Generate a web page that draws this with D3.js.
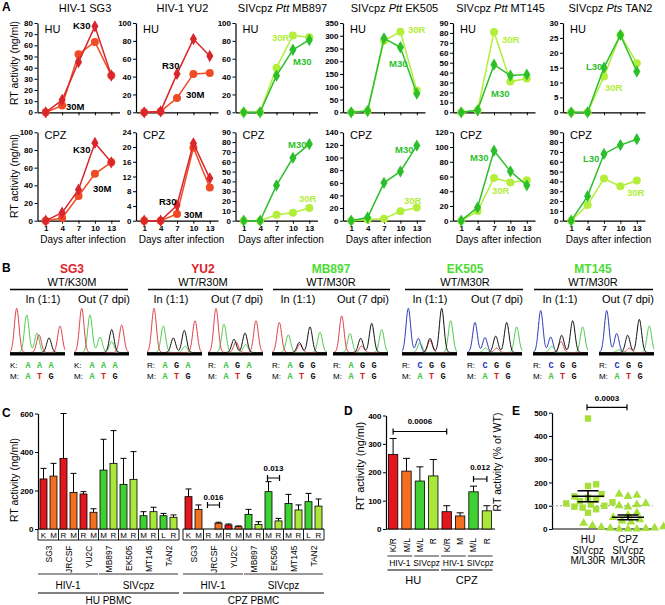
<!DOCTYPE html>
<html><head><meta charset="utf-8">
<script src="https://cdn.jsdelivr.net/npm/d3@7"></script>
<style>body{margin:0;background:#fff}</style>
</head><body>
<svg id="c" width="665" height="605"></svg>
<script>
// ---------------- DATA ----------------
// Panel A
const days = [1, 4, 7, 10, 13];
const strainsA = ["SG3", "YU2", "MB897", "EK505", "MT145", "TAN2"];
const titlesA = [
  [["HIV-1 SG3", 0]], [["HIV-1 YU2", 0]],
  [["SIVcpz ", 0], ["Ptt", 1], [" MB897", 0]],
  [["SIVcpz ", 0], ["Ptt", 1], [" EK505", 0]],
  [["SIVcpz ", 0], ["Ptt", 1], [" MT145", 0]],
  [["SIVcpz ", 0], ["Pts", 1], [" TAN2", 0]]
];
const typeA = ["HIV", "HIV", "SIV", "SIV", "SIV", "SIV"];
const wtLabelA = ["K30", "R30", "M30", "M30", "M30", "L30"];
const mutLabelA = ["30M", "30M", "30R", "30R", "30R", "30R"];
const huMaxA = [80, 100, 100, 350, 90, 30];
const huStepA = [10, 20, 20, 50, 10, 5];
const cpzMaxA = [100, 24, 90, 140, 120, 90];
const cpzStepA = [20, 4, 10, 20, 20, 10];
const huWtA = [[0, 11, 45, 77, 33], [0, 1, 43, 82, 63], [0, 0, 41, 70, 81], [0, 5, 290, 255, 73], [0, 2, 48, 37, 38], [0, 0, 15, 26, 13.7]];
const huMutA = [[0, 6, 52, 63, 33], [0, 1, 16, 43, 44], [0, 0, 50, 86, 84], [0, 5, 280, 316, 85], [0, 2, 81, 31, 34], [0, 0, 12, 26, 16.5]];
const cpzWtA = [[0, 9, 35, 88, 66], [0, 0, 4.2, 21, 11.5], [0, 0, 36, 64, 78], [0, 5, 60, 78, 119], [0, 18, 95, 67, 48], [0, 25, 68, 77, 83]];
const cpzMutA = [[0, 3, 28, 53, 66], [0, 0, 1.8, 19.8, 9], [0, 0, 6, 8, 13], [0, 2, 3, 15, 21], [0, 13, 58, 52, 55], [0, 16, 43, 35, 41]];

// Panel B
const bNames = ["SG3", "YU2", "MB897", "EK505", "MT145"];
const bFamily = ["HIV", "HIV", "SIV", "SIV", "SIV"];
const bSub = ["WT/K30M", "WT/R30M", "WT/M30R", "WT/M30R", "WT/M30R"];
const bWtAA = ["K", "R", "R", "R", "R"];
const bWtCodon = ["AAA", "AGA", "AGG", "CGG", "CGG"];
const bMutAA = "M";
const bMutCodon = "ATG";
// chromatogram peaks: [channel, position along trace, relative height]
const chromPeaks = [
  [["r", 6.7, 1.0], ["g", 16.7, 0.85], ["g", 27, 0.44], ["r", 29, 0.4], ["k", 39, 0.33], ["r", 50, 0.6]],
  [["r", 7.7, 1.0], ["g", 16, 0.85], ["g", 26, 0.35], ["k", 37.7, 0.52], ["g", 37.7, 0.25], ["r", 47.7, 0.62]],
  [["r", 7, 1.0], ["g", 16.3, 0.6], ["k", 26.3, 0.33], ["k", 37.3, 0.5], ["g", 38, 0.14], ["r", 48, 0.72]],
  [["r", 8, 1.0], ["g", 16, 0.64], ["k", 26, 0.3], ["r", 28, 0.24], ["k", 37, 0.44], ["g", 37.7, 0.18], ["r", 48, 0.72]],
  [["r", 7.3, 0.68], ["g", 16.3, 0.4], ["r", 28, 0.19], ["k", 27.3, 0.23], ["k", 38, 0.58], ["g", 48, 0.46]],
  [["r", 8.7, 0.83], ["g", 17, 0.43], ["k", 27.7, 0.32], ["r", 28.7, 0.15], ["k", 38.7, 0.66], ["g", 48.7, 0.52]],
  [["b", 6.3, 1.0], ["b", 16.3, 0.32], ["g", 18, 0.22], ["k", 28, 0.32], ["r", 28, 0.27], ["k", 39.7, 1.0], ["g", 48.7, 0.72]],
  [["b", 8, 0.68], ["b", 18, 0.34], ["g", 18.7, 0.1], ["k", 28.7, 0.37], ["r", 29.7, 0.1], ["k", 39.7, 0.68], ["g", 49.7, 0.58]],
  [["b", 7.7, 0.95], ["b", 17.7, 0.35], ["g", 18.7, 0.14], ["k", 28.7, 0.39], ["r", 28, 0.25], ["k", 39.7, 0.72], ["g", 49.7, 0.58]],
  [["b", 7.7, 0.95], ["b", 17.7, 0.43], ["g", 20, 0.06], ["k", 28.7, 0.39], ["r", 30.3, 0.1], ["k", 40.3, 0.75], ["g", 50.3, 0.6]]
];

// Panel C
const cStrains = ["SG3", "JRCSF", "YU2C", "MB897", "EK505", "MT145", "TAN2"];
const cFamily = ["HIV-1", "HIV-1", "HIV-1", "SIVcpz", "SIVcpz", "SIVcpz", "SIVcpz"];
const cWtRes = ["K", "R", "R", "M", "M", "M", "L"];
const cMutRes = ["M", "M", "M", "R", "R", "R", "R"];
const cHUmean = [260, 275, 367, 190, 182, 87, 306, 341, 232, 258, 69, 90, 69, 61];
const cHUsem = [55, 66, 233, 99, 12, 18, 160, 170, 135, 144, 21, 23, 12, 12];
const cCPZmean = [168, 102, 0, 30, 21, 12, 76, 24, 194, 42, 133, 99, 142, 119];
const cCPZsem = [40, 23, 0, 5, 5, 4, 26, 14, 52, 13, 47, 26, 43, 37];
const cYTicks = [0, 200, 400, 600];

// Panel D
const dLabels = ["K/R", "M/L", "M/L", "R", "K/R", "M", "M/L", "R"];
const dKind = ["hivWt", "hivMut", "sivWt", "sivMut", "hivWt", "hivMut", "sivWt", "sivMut"];
const dMean = [263, 204, 169, 187, 61, 46, 131, 64];
const dSem = [56, 45, 50, 58, 21, 11, 20, 18];
const dYTicks = [0, 100, 200, 300, 400];

// Panel E
const eHU = [475, 192, 185, 150, 140, 135, 128, 120, 115, 110, 105, 100, 96, 92, 85, 70];
const eCPZ = [150, 145, 140, 110, 105, 100, 95, 70, 60, 50, 40, 35, 30, 25, 20, 15, 10, 8, 5, 3, 2, 0, 0, 0];
const eMean = [141, 50];
const eSem = [23.5, 10];
const eYTicks = [0, 100, 200, 300, 400, 500];

// ---------------- STYLE / LAYOUT ----------------
const FONT = "'Liberation Sans', Arial, Helvetica, sans-serif";
const COL = {
  hivWt: "#e2161d", hivMut: "#f36f21", sivWt: "#3fd133", sivMut: "#a9e83b",
  lineHivWt: "#d8262c", lineHivMut: "#f04b24", lineSivWt: "#2cbf2c", lineSivMut: "#b2ee3a",
  titleRed: "#e0202a", titleGreen: "#4cdd33",
  chr: { r: "#e0404c", g: "#52c952", k: "#111", b: "#2b3cb8" },
  base: { A: "#3ec43e", T: "#d62020", G: "#111", C: "#2233bb" },
  e: "#a5e03a"
};
const svg = d3.select("#c");
svg.append("rect").attr("width", 665).attr("height", 605).attr("fill", "#fff");

function T(x, y, s, o = {}) {
  const t = svg.append("text").attr("x", x).attr("y", y).text(s)
    .attr("font-family", o.family || FONT).attr("font-size", o.size || 10)
    .attr("text-anchor", o.anchor || "start").attr("fill", o.fill || "#000");
  if (o.bold) t.attr("font-weight", "bold");
  if (o.rot != null) t.attr("transform", `rotate(${o.rot},${x},${y})`);
  return t;
}
function styleAxis(g, size = 8) {
  g.attr("font-family", FONT).attr("font-size", size).attr("font-weight", "bold");
  g.selectAll("path.domain").attr("stroke", "#000").attr("stroke-width", 1.2);
  g.selectAll(".tick line").attr("stroke", "#000").attr("stroke-width", 1);
  g.selectAll(".tick text").attr("fill", "#000");
}
function bracket(x1, x2, y, label, ly) {
  svg.append("path").attr("d", `M${x1},${y - 3}V${y + 3}M${x1},${y}H${x2}M${x2},${y - 3}V${y + 3}`)
    .attr("stroke", "#000").attr("stroke-width", 1.2).attr("fill", "none");
  T((x1 + x2) / 2, ly, label, { bold: true, size: 8, anchor: "middle" });
}

// panel letters
T(2, 11, "A", { bold: true, size: 12 });
T(2, 272, "B", { bold: true, size: 12 });
T(2, 417, "C", { bold: true, size: 12 });
T(344, 415, "D", { bold: true, size: 12 });
T(512, 415, "E", { bold: true, size: 12 });

// ---------------- PANEL A ----------------
const aX0 = [37.5, 136, 235.5, 343, 453, 563];
const aTitleX = [85, 182.5, 282.5, 394.5, 500.5, 610.5];
const labPosHU = [[[35.5, 29], [28.5, 110]], [[26, 69], [50, 98]], [[57.5, 65], [36.5, 41]], [[46, 67], [65, 33]], [[38, 97], [49, 43]], [[23, 70], [42, 91]]];
const labPosCPZ = [[[35.5, 153], [55.5, 192]], [[23, 205], [48, 218]], [[52.5, 148], [63.5, 202]], [[52, 153], [61, 204]], [[17, 161], [39, 194]], [[20, 162], [64, 196]]];
const rowsA = [
  { label: "HU", labY: 33, top: 23, bot: 112.3, max: huMaxA, step: huStepA, wt: huWtA, mut: huMutA, lab: labPosHU, showX: false },
  { label: "CPZ", labY: 138.5, top: 132.3, bot: 220.7, max: cpzMaxA, step: cpzStepA, wt: cpzWtA, mut: cpzMutA, lab: labPosCPZ, showX: true }
];
strainsA.forEach((s, i) => {
  const t = T(aTitleX[i], 12, "", { size: 11, anchor: "middle" });
  titlesA[i].forEach(([seg, it]) => t.append("tspan").text(seg).attr("font-style", it ? "italic" : "normal"));
});
T(18, 63, "RT activity (ng/ml)", { size: 10.5, anchor: "middle", rot: -90 });
T(18, 176, "RT activity (ng/ml)", { size: 10.5, anchor: "middle", rot: -90 });

rowsA.forEach(row => {
  strainsA.forEach((s, i) => {
    const x0 = aX0[i];
    const x = d3.scaleLinear().domain([-0.5, 14.5]).range([x0, x0 + 82]);
    const y = d3.scaleLinear().domain([0, row.max[i]]).range([row.bot, row.top]);
    const gx = svg.append("g").attr("transform", `translate(0,${row.bot})`)
      .call(d3.axisBottom(x).tickValues(days).tickSize(3).tickSizeOuter(0).tickPadding(1.5)
        .tickFormat(row.showX ? d3.format("d") : () => ""));
    styleAxis(gx, 8);
    const gy = svg.append("g").attr("transform", `translate(${x0},0)`)
      .call(d3.axisLeft(y).tickValues(d3.range(0, row.max[i] + 1e-6, row.step[i])).tickSize(3).tickSizeOuter(0).tickPadding(1.5));
    styleAxis(gy, 8);
    if (row.showX) T(x0 + 45.5, 243, "Days after infection", { size: 10, anchor: "middle" });
    T(x0 + 7, row.labY, row.label, { size: 11 });
    const siv = typeA[i] === "SIV";
    const cW = siv ? COL.lineSivWt : COL.lineHivWt, cM = siv ? COL.lineSivMut : COL.lineHivMut;
    const line = d3.line().x((v, j) => x(days[j])).y(v => y(v));
    [[row.mut[i], cM, "c"], [row.wt[i], cW, "d"]].forEach(([vals, col, sh]) => {
      svg.append("path").datum(vals).attr("d", line).attr("fill", "none").attr("stroke", col).attr("stroke-width", 1.5);
      vals.forEach((v, j) => {
        if (sh === "c") svg.append("circle").attr("cx", x(days[j])).attr("cy", y(v)).attr("r", 4).attr("fill", col);
        else svg.append("path").attr("d", d3.symbol(d3.symbolDiamond, 44)()).attr("transform", `translate(${x(days[j])},${y(v)})`).attr("fill", col);
      });
    });
    T(x0 + row.lab[i][0][0], row.lab[i][0][1], wtLabelA[i], { bold: true, size: 9.5, fill: siv ? cW : "#000" });
    T(x0 + row.lab[i][1][0], row.lab[i][1][1], mutLabelA[i], { bold: true, size: 9.5, fill: siv ? cM : "#000" });
  });
});

// ---------------- PANEL B ----------------
const bCenter = [72, 203, 331, 465, 593];
const bLine = [[10, 128], [148, 263], [273, 390], [405, 523], [534, 653]];
const bInX = [43, 171, 298, 430, 560];
const bOutX = [104, 237, 363, 497, 628];
const chromX0 = [10, 74, 147, 208, 272, 333, 402, 467, 533, 599];
const chromW = 55, chromBase = 352.5, chromTop = 308;
bNames.forEach((n, i) => {
  T(bCenter[i], 273, n, { bold: true, size: 12, anchor: "middle", fill: bFamily[i] === "HIV" ? COL.titleRed : COL.titleGreen });
  T(bCenter[i], 285.5, bSub[i], { size: 11, anchor: "middle" });
  svg.append("line").attr("x1", bLine[i][0]).attr("x2", bLine[i][1]).attr("y1", 289.5).attr("y2", 289.5).attr("stroke", "#000").attr("stroke-width", 1.5);
  T(bInX[i], 303, "In (1:1)", { size: 11, anchor: "middle" });
  T(bOutX[i], 303, "Out (7 dpi)", { size: 11, anchor: "middle" });
});
chromPeaks.forEach((peaks, c) => {
  const x0 = chromX0[c], vi = Math.floor(c / 2);
  const x = d3.scaleLinear().domain([0, chromW]).range([x0, x0 + chromW]);
  const y = d3.scaleLinear().domain([0, 1]).range([chromBase, chromTop]);
  ["b", "g", "r", "k"].forEach(ch => {
    const pk = peaks.filter(p => p[0] === ch);
    if (!pk.length) return;
    const pts = d3.range(0, chromW + 0.01, 0.5).map(t => [t, d3.sum(pk, p => p[2] * Math.exp(-((t - p[1]) ** 2) / (2 * 2.3 * 2.3)))]);
    svg.append("path").datum(pts).attr("d", d3.line().x(d => x(d[0])).y(d => y(d[1])).curve(d3.curveBasis))
      .attr("fill", "none").attr("stroke", COL.chr[ch]).attr("stroke-width", 1);
  });
  svg.append("rect").attr("x", x0).attr("y", chromBase).attr("width", chromW).attr("height", 3).attr("fill", "#000");
  [[bWtAA[vi], bWtCodon[vi], 368], [bMutAA, bMutCodon, 378.5]].forEach(([aa, codon, yy]) => {
    T(x0, yy, aa + ":", { size: 8 });
    codon.split("").forEach((b, k) => T(x0 + 18 + k * 11.5, yy, b, { size: 8.5, bold: true, anchor: "middle", family: "'Liberation Mono', 'DejaVu Sans Mono', monospace", fill: COL.base[b] }));
  });
});

// ---------------- PANEL C ----------------
const cY = d3.scaleLinear().domain([0, 600]).range([529, 413.5]);
const gyC = svg.append("g").attr("transform", "translate(38,0)")
  .call(d3.axisLeft(cY).tickValues(cYTicks).tickSize(3).tickSizeOuter(0).tickPadding(1.5));
styleAxis(gyC, 8);
T(18, 480, "RT activity (ng/ml)", { size: 10.5, anchor: "middle", rot: -90 });
const cGroups = [
  { name: "HU PBMC", range: [38, 179], mean: cHUmean, sem: cHUsem },
  { name: "CPZ PBMC", range: [183, 324], mean: cCPZmean, sem: cCPZsem }
];
const cIdx = d3.range(14);
cGroups.forEach((grp, gi) => {
  const x = d3.scaleBand().domain(cIdx).range(grp.range).paddingInner(0.3).paddingOuter(0.2);
  const bw = x.bandwidth();
  svg.append("line").attr("x1", grp.range[0]).attr("x2", grp.range[1]).attr("y1", 529).attr("y2", 529).attr("stroke", "#000").attr("stroke-width", 1.2);
  cIdx.forEach(k => {
    const si = Math.floor(k / 2), mut = k % 2 === 1, hiv = cFamily[si] === "HIV-1";
    const col = hiv ? (mut ? COL.hivMut : COL.hivWt) : (mut ? COL.sivMut : COL.sivWt);
    const v = grp.mean[k], e = grp.sem[k];
    if (v > 0) {
      svg.append("rect").attr("x", x(k)).attr("y", cY(v)).attr("width", bw).attr("height", cY(0) - cY(v))
        .attr("fill", col).attr("stroke", "#000").attr("stroke-width", 0.8);
    }
    if (e > 0) {
      const cx = x(k) + bw / 2;
      svg.append("path").attr("d", `M${cx},${cY(v)}V${cY(v + e)}M${cx - 3},${cY(v + e)}H${cx + 3}`).attr("stroke", "#000").attr("stroke-width", 1).attr("fill", "none");
    }
    T(x(k) + bw / 2, 537.5, mut ? cMutRes[si] : cWtRes[si], { size: 8, anchor: "middle" });
  });
  // separators of residue row
  d3.range(8).forEach(j => {
    const xx = j === 0 ? grp.range[0] : (j === 7 ? grp.range[1] : x(j * 2) - (x.step() - bw) / 2);
    svg.append("line").attr("x1", xx).attr("x2", xx).attr("y1", 529).attr("y2", 540).attr("stroke", "#000").attr("stroke-width", 0.9);
  });
  svg.append("line").attr("x1", grp.range[0]).attr("x2", grp.range[1]).attr("y1", 540).attr("y2", 540).attr("stroke", "#000").attr("stroke-width", 0.9);
  cStrains.forEach((s, si) => {
    const cx = (x(si * 2) + x(si * 2 + 1) + bw) / 2;
    T(cx + 3, 545.5, s, { size: 8.5, anchor: "end", rot: -90 });
  });
  // family lines
  [["HIV-1", 0, 5], ["SIVcpz", 6, 13]].forEach(([fam, a, b]) => {
    const x1 = a === 0 ? grp.range[0] : x(a) - 1, x2 = x(b) + bw + 1;
    svg.append("line").attr("x1", x1).attr("x2", x2).attr("y1", 574).attr("y2", 574).attr("stroke", "#777").attr("stroke-width", 1.5);
    T((x1 + x2) / 2, 588.5, fam, { size: 10, anchor: "middle" });
  });
  svg.append("line").attr("x1", grp.range[0]).attr("x2", grp.range[1]).attr("y1", 593).attr("y2", 593).attr("stroke", "#000").attr("stroke-width", 1.2);
  T((grp.range[0] + grp.range[1]) / 2, 604, grp.name, { size: 10, anchor: "middle" });
  if (gi === 1) {
    bracket(x(2) + bw / 2 - 1, x(3) + bw / 2 + 1, 505, "0.016", 500);
    bracket(x(8) + bw / 2 - 1, x(9) + bw / 2 + 1, 478, "0.013", 471);
  }
});

// ---------------- PANEL D ----------------
const dY = d3.scaleLinear().domain([0, 400]).range([529, 415.5]);
const dX = d3.scaleBand().domain(d3.range(8)).range([386, 494]).paddingInner(0.3).paddingOuter(0.18);
const dbw = dX.bandwidth();
const gyD = svg.append("g").attr("transform", "translate(386,0)")
  .call(d3.axisLeft(dY).tickValues(dYTicks).tickSize(3).tickSizeOuter(0).tickPadding(1.5));
styleAxis(gyD, 8);
svg.append("line").attr("x1", 386).attr("x2", 495).attr("y1", 529).attr("y2", 529).attr("stroke", "#000").attr("stroke-width", 1.2);
T(364, 466, "RT activity (ng/ml)", { size: 11, anchor: "middle", rot: -90 });
dMean.forEach((v, k) => {
  svg.append("rect").attr("x", dX(k)).attr("y", dY(v)).attr("width", dbw).attr("height", dY(0) - dY(v))
    .attr("fill", COL[dKind[k]]).attr("stroke", "#000").attr("stroke-width", 0.8);
  const cx = dX(k) + dbw / 2;
  svg.append("path").attr("d", `M${cx},${dY(v)}V${dY(v + dSem[k])}M${cx - 3.5},${dY(v + dSem[k])}H${cx + 3.5}`).attr("stroke", "#000").attr("stroke-width", 1).attr("fill", "none");
  T(cx + 3, 538, dLabels[k], { size: 8.5, anchor: "end", rot: -90 });
});
[["HIV-1", 0, 1], ["SIVcpz", 2, 3], ["HIV-1", 4, 5], ["SIVcpz", 6, 7]].forEach(([fam, a, b]) => {
  const x1 = dX(a) - 1, x2 = dX(b) + dbw + 1;
  svg.append("line").attr("x1", x1).attr("x2", x2).attr("y1", 556).attr("y2", 556).attr("stroke", "#777").attr("stroke-width", 1.5);
  T((x1 + x2) / 2, 565.5, fam, { size: 8.5, anchor: "middle" });
});
[["HU", 0, 3], ["CPZ", 4, 7]].forEach(([nm, a, b]) => {
  const x1 = dX(a) - 1, x2 = dX(b) + dbw + 1;
  svg.append("line").attr("x1", x1).attr("x2", x2).attr("y1", 570).attr("y2", 570).attr("stroke", "#000").attr("stroke-width", 1.2);
  T((x1 + x2) / 2, 583.5, nm, { size: 11, anchor: "middle" });
});
bracket(dX(0) + dbw / 2, dX(4) + dbw / 2, 431.5, "0.0006", 424);
bracket(dX(6) + dbw / 2, dX(7) + dbw / 2, 479, "0.012", 470);

// ---------------- PANEL E ----------------
const eY = d3.scaleLinear().domain([0, 500]).range([529, 412.7]);
const eX = d3.scalePoint().domain(["HU", "CPZ"]).range([588, 628]);
const gyE = svg.append("g").attr("transform", "translate(552,0)")
  .call(d3.axisLeft(eY).tickValues(eYTicks).tickSize(3).tickSizeOuter(0).tickPadding(1.5));
styleAxis(gyE, 8);
svg.append("line").attr("x1", 552).attr("x2", 653).attr("y1", 529).attr("y2", 529).attr("stroke", "#000").attr("stroke-width", 1.2);
svg.append("line").attr("x1", 552).attr("x2", 653).attr("y1", eY(100)).attr("y2", eY(100)).attr("stroke", "#999").attr("stroke-width", 1).attr("stroke-dasharray", "2,2");
T(501, 462, "RT activity (% of WT)", { size: 10.5, anchor: "middle", rot: -90 });
function swarm(vals, cx, r) {
  const placed = [];
  return vals.map(v => v).sort((a, b) => a - b).map(v => {
    const py = eY(v);
    let px = cx;
    for (let k = 0; k < 60; k++) {
      const off = (k % 2 ? 1 : -1) * Math.ceil(k / 2) * r * 0.8;
      const tx = cx + off;
      if (placed.every(p => (p[0] - tx) ** 2 + (p[1] - py) ** 2 >= (2 * r) ** 2)) { px = tx; break; }
    }
    placed.push([px, py]);
    return [px, py];
  });
}
swarm(eHU, eX("HU"), 3.4).forEach(([px, py]) => {
  svg.append("rect").attr("x", px - 3.2).attr("y", py - 3.2).attr("width", 6.4).attr("height", 6.4).attr("fill", COL.e);
});
swarm(eCPZ, eX("CPZ"), 3.7).forEach(([px, py]) => {
  svg.append("path").attr("d", d3.symbol(d3.symbolTriangle, 34)()).attr("transform", `translate(${px},${py})`).attr("fill", COL.e);
});
["HU", "CPZ"].forEach((c, i) => {
  const cx = eX(c), m = eMean[i], s = eSem[i];
  svg.append("path").attr("d", `M${cx - 16},${eY(m)}H${cx + 16}M${cx},${eY(m - s)}V${eY(m + s)}M${cx - 10.5},${eY(m - s)}H${cx + 10.5}M${cx - 10.5},${eY(m + s)}H${cx + 10.5}`)
    .attr("stroke", "#000").attr("stroke-width", 1.5).attr("fill", "none");
  [c, "SIVcpz", "M/L30R"].forEach((l, k) => T(cx, 543 + k * 10.5, l, { size: 10, anchor: "middle" }));
});
bracket(eX("HU") - 1, eX("CPZ") - 1, 407.3, "0.0003", 401);
</script>
</body></html>
